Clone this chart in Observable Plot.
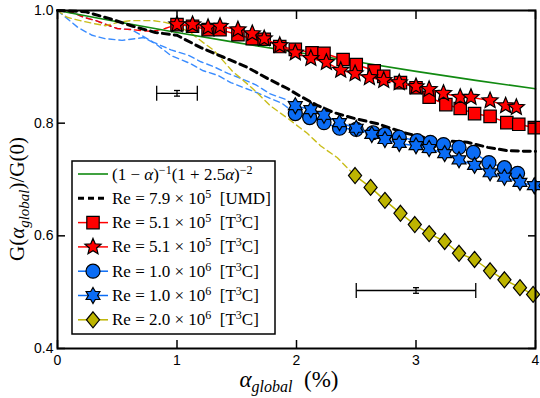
<!DOCTYPE html>
<html>
<head>
<meta charset="utf-8">
<script src="https://cdn.jsdelivr.net/npm/d3@7"></script>
<script src="https://cdn.jsdelivr.net/npm/@observablehq/plot@0.6"></script>
<style>
  html, body { margin: 0; padding: 0; background: #fff; }
  svg { display: block; }
</style>
</head>
<body>
<div id="chart"></div>
<script>
// ---- data ----
const greenX = [0, 0.5, 1, 1.5, 2, 2.5, 3, 3.5, 4];
const greenY = [1.0, 0.980, 0.961, 0.943, 0.926, 0.909, 0.892, 0.876, 0.861];

const umdX = [0, 0.23, 0.43, 0.63, 0.82, 1.0, 1.2, 1.39, 1.59, 1.76, 1.92, 2.03, 2.18, 2.31, 2.49, 2.68, 2.9, 3.06, 3.21, 3.43, 3.6, 3.77, 3.96, 4.0];
const umdY = [1.0, 0.998, 0.986, 0.972, 0.961, 0.956, 0.934, 0.917, 0.899, 0.879, 0.862, 0.848, 0.831, 0.819, 0.808, 0.799, 0.783, 0.775, 0.769, 0.766, 0.757, 0.751, 0.750, 0.750];

const sqX = [1.00, 1.13, 1.26, 1.36, 1.51, 1.63, 1.73, 1.86, 1.99, 2.13, 2.23, 2.39, 2.50, 2.65, 2.73, 2.87, 3.00, 3.11, 3.25, 3.37, 3.49, 3.62, 3.76, 3.86, 3.99];
const sqY = [0.975, 0.972, 0.966, 0.966, 0.957, 0.950, 0.949, 0.936, 0.931, 0.925, 0.924, 0.913, 0.904, 0.893, 0.883, 0.872, 0.863, 0.846, 0.833, 0.826, 0.817, 0.812, 0.801, 0.798, 0.792];

const stX = [1.00, 1.13, 1.26, 1.36, 1.51, 1.63, 1.73, 1.86, 1.99, 2.12, 2.25, 2.37, 2.49, 2.61, 2.73, 2.86, 3.00, 3.11, 3.23, 3.37, 3.46, 3.62, 3.75, 3.84];
const stY = [0.975, 0.975, 0.970, 0.972, 0.966, 0.959, 0.950, 0.938, 0.925, 0.915, 0.908, 0.894, 0.888, 0.881, 0.876, 0.872, 0.865, 0.860, 0.853, 0.846, 0.846, 0.840, 0.831, 0.828];

const redDashX = [0, 0.13, 0.22, 0.32, 0.5, 0.62, 0.72, 0.8, 0.9, 1.0];
const redDashY = [1.0, 0.996, 0.988, 0.982, 0.968, 0.966, 0.964, 0.963, 0.968, 0.975];

const ciX = [1.99, 2.11, 2.23, 2.36, 2.50, 2.64, 2.74, 2.86, 3.01, 3.12, 3.23, 3.36, 3.48, 3.61, 3.74, 3.85];
const ciY = [0.817, 0.810, 0.801, 0.791, 0.789, 0.783, 0.780, 0.775, 0.769, 0.766, 0.762, 0.757, 0.748, 0.730, 0.721, 0.711];

const hxX = [1.99, 2.12, 2.23, 2.36, 2.50, 2.63, 2.74, 2.86, 3.00, 3.11, 3.24, 3.36, 3.49, 3.62, 3.74, 3.87, 3.99];
const hxY = [0.831, 0.824, 0.814, 0.801, 0.791, 0.780, 0.771, 0.764, 0.760, 0.755, 0.746, 0.735, 0.725, 0.712, 0.704, 0.695, 0.689];

const blueDashAX = [0, 0.17, 0.29, 0.40, 0.54, 0.65, 0.72, 0.82, 0.95, 1.11, 1.22, 1.34, 1.45, 1.56, 1.67, 1.78, 1.88, 1.99];
const blueDashAY = [1.0, 0.970, 0.956, 0.950, 0.947, 0.950, 0.952, 0.941, 0.920, 0.906, 0.893, 0.885, 0.872, 0.863, 0.854, 0.844, 0.835, 0.817];

const blueDashBX = [0, 0.13, 0.22, 0.32, 0.5, 0.62, 0.8, 0.95, 1.09, 1.2, 1.31, 1.43, 1.54, 1.66, 1.78, 1.91, 1.99];
const blueDashBY = [1.0, 0.996, 0.988, 0.982, 0.968, 0.966, 0.944, 0.930, 0.921, 0.909, 0.900, 0.888, 0.879, 0.868, 0.852, 0.842, 0.831];

const yelDashX = [0, 0.08, 0.19, 0.30, 0.40, 0.51, 0.61, 0.71, 0.80, 0.90, 1.00, 1.11, 1.22, 1.31, 1.46, 1.63, 1.78, 1.93, 2.09, 2.20, 2.34, 2.49];
const yelDashY = [1.0, 0.988, 0.982, 0.977, 0.973, 0.979, 0.982, 0.982, 0.982, 0.979, 0.973, 0.961, 0.943, 0.929, 0.893, 0.862, 0.831, 0.808, 0.782, 0.760, 0.739, 0.707];

const dmX = [2.49, 2.62, 2.74, 2.87, 2.99, 3.11, 3.24, 3.36, 3.49, 3.62, 3.74, 3.87, 3.98];
const dmY = [0.707, 0.686, 0.663, 0.640, 0.620, 0.604, 0.590, 0.569, 0.558, 0.538, 0.522, 0.508, 0.496];

const errX = [1.0, 3.0];
const errY = [0.853, 0.503];
const errXHalf = [0.17, 0.5];
const errYHalf = [0.005, 0.005];

const xTicks = [0, 1, 2, 3, 4];
const yTicks = [0.4, 0.6, 0.8, 1.0];
const yTickLabels = ["0.4", "0.6", "0.8", "1.0"];

// ---- colours ----
const RED = "#ff0000", BLUE = "#0a6cf5", BLUE_D = "#3a8cff", YEL = "#bdb400", YEL_D = "#c9bd1a", GREEN = "#118a11";

// ---- symbols ----
const sym = f => ({draw(ctx, size) { f(ctx, Math.sqrt(size / Math.PI)); }});
const starPath = (n, inner) => sym((c, r) => {
  for (let i = 0; i < 2 * n; i++) {
    const a = -Math.PI / 2 + i * Math.PI / n;
    const rr = i % 2 ? r * inner : r;
    if (i === 0) c.moveTo(rr * Math.cos(a), rr * Math.sin(a));
    else c.lineTo(rr * Math.cos(a), rr * Math.sin(a));
  }
  c.closePath();
});
const SQUARE = sym((c, r) => { c.moveTo(-r, -r); c.lineTo(r, -r); c.lineTo(r, r); c.lineTo(-r, r); c.closePath(); });
const STAR5 = starPath(5, 0.45);
const HEXA = starPath(6, 0.58);
const DIAM = sym((c, r) => { c.moveTo(0, -r); c.lineTo(0.82 * r, 0); c.lineTo(0, r); c.lineTo(-0.82 * r, 0); c.closePath(); });
const VCAP = sym((c, r) => { c.moveTo(0, -r); c.lineTo(0, r); });
const HCAP = sym((c, r) => { c.moveTo(-r, 0); c.lineTo(r, 0); });

const rows = (xs, ys) => xs.map((x, i) => ({x, y: ys[i]}));
const greenD = rows(greenX, greenY), umdD = rows(umdX, umdY), sqD = rows(sqX, sqY), stD = rows(stX, stY);
const rdD = rows(redDashX, redDashY), ciD = rows(ciX, ciY), hxD = rows(hxX, hxY);
const bdaD = rows(blueDashAX, blueDashAY), bdbD = rows(blueDashBX, blueDashBY), ydD = rows(yelDashX, yelDashY), dmD = rows(dmX, dmY);
const errD = errX.map((x, i) => ({x, y: errY[i], dx: errXHalf[i], dy: errYHalf[i]}));

const dashed = (d, stroke, w = 1.4, da = "6,4") => Plot.line(d, {x: "x", y: "y", stroke, strokeWidth: w, strokeDasharray: da, curve: "linear"});
const solid = (d, stroke, w = 1.5) => Plot.line(d, {x: "x", y: "y", stroke, strokeWidth: w});
const dots = (d, symbol, fill, r) => Plot.dot(d, {x: "x", y: "y", symbol, fill, r, stroke: "black", strokeWidth: 1.2});

const MS = {sq: 6.2, st: 8.5, ci: 7, hx: 8, dm: 8};

const chart = Plot.plot({
  width: 540, height: 398,
  marginLeft: 57, marginRight: 5, marginTop: 10, marginBottom: 50,
  style: {fontFamily: "'Liberation Sans', Arial, sans-serif", fontSize: "14px", color: "black", background: "white"},
  x: {domain: [0, 4]},
  y: {domain: [0.4, 1.0]},
  marks: [
    // extension dashed lines
    dashed(bdaD, BLUE_D),
    dashed(bdbD, BLUE_D),
    dashed(rdD, RED),
    dashed(ydD, YEL_D),
    // model
    solid(greenD, GREEN, 1.6),
    dashed(umdD, "black", 3, "7,5"),
    // data series
    solid(sqD, RED), dots(sqD, SQUARE, RED, MS.sq),
    solid(stD, RED), dots(stD, STAR5, RED, MS.st),
    solid(ciD, BLUE), dots(ciD, "circle", BLUE, MS.ci),
    solid(hxD, BLUE), dots(hxD, HEXA, BLUE, MS.hx),
    solid(dmD, YEL), dots(dmD, DIAM, YEL, MS.dm),
    // error bars
    Plot.link(errD, {x1: d => d.x - d.dx, x2: d => d.x + d.dx, y1: "y", y2: "y", stroke: "black", strokeWidth: 1.3}),
    Plot.dot(errD, {x: d => d.x - d.dx, y: "y", symbol: VCAP, r: 7.5, stroke: "black", strokeWidth: 1.3}),
    Plot.dot(errD, {x: d => d.x + d.dx, y: "y", symbol: VCAP, r: 7.5, stroke: "black", strokeWidth: 1.3}),
    Plot.link(errD, {x1: "x", x2: "x", y1: d => d.y - d.dy, y2: d => d.y + d.dy, stroke: "black", strokeWidth: 1.3}),
    Plot.dot(errD, {x: "x", y: d => d.y - d.dy, symbol: HCAP, r: 3, stroke: "black", strokeWidth: 1.3}),
    Plot.dot(errD, {x: "x", y: d => d.y + d.dy, symbol: HCAP, r: 3, stroke: "black", strokeWidth: 1.3}),
    // axes: labels (no tick length) + inward ticks on all four sides
    Plot.axisX(xTicks, {anchor: "bottom", tickSize: 0, tickPadding: 7, tickFormat: d => String(d), label: null, fontSize: 14}),
    Plot.axisX(xTicks, {anchor: "bottom", tickSize: -8, tickFormat: () => "", label: null, strokeWidth: 1.5}),
    Plot.axisX(xTicks, {anchor: "top", tickSize: -8, tickFormat: () => "", label: null, strokeWidth: 1.5}),
    Plot.axisY(yTicks, {anchor: "left", tickSize: 0, tickPadding: 4, tickFormat: (d, i) => yTickLabels[i], label: null, fontSize: 14}),
    Plot.axisY(yTicks, {anchor: "left", tickSize: -8, tickFormat: () => "", label: null, strokeWidth: 1.5}),
    Plot.axisY(yTicks, {anchor: "right", tickSize: -8, tickFormat: () => "", label: null, strokeWidth: 1.5}),
    Plot.frame({stroke: "black", strokeWidth: 2})
  ]
});

document.getElementById("chart").appendChild(chart);

// ---- axis titles & legend (real text) ----
const svg = d3.select(chart);
const SERIF = "'Liberation Serif', 'DejaVu Serif', serif";

// y title
const yt = svg.append("text")
  .attr("transform", "translate(24,199) rotate(-90)")
  .attr("text-anchor", "middle")
  .attr("font-family", SERIF).attr("font-size", 21).attr("fill", "black");
yt.append("tspan").text("G(");
yt.append("tspan").attr("font-style", "italic").text("α");
yt.append("tspan").attr("font-style", "italic").attr("font-size", 15).attr("dy", 5).text("global");
yt.append("tspan").attr("dy", -5).text(")/G(0)");

// x title
const xt = svg.append("text")
  .attr("x", 289).attr("y", 387)
  .attr("text-anchor", "middle")
  .attr("font-family", SERIF).attr("font-size", 23).attr("fill", "black")
  .style("white-space", "pre");
xt.append("tspan").attr("font-style", "italic").text("α");
xt.append("tspan").attr("font-style", "italic").attr("font-size", 16).attr("dy", 5).text("global");
xt.append("tspan").attr("dy", -5).text("  (%)");

// legend
const lg = svg.append("g");
lg.append("rect").attr("x", 72).attr("y", 161).attr("width", 203).attr("height", 173)
  .attr("fill", "white").attr("stroke", "black").attr("stroke-width", 1.5);

const legendItems = [
  {stroke: GREEN, dash: null, w: 1.6, symbol: null, parts: [["(1 − "], ["α", "i"], [")"], ["−1", "sup"], ["(1 + 2.5"], ["α", "i"], [")"], ["−2", "sup"]]},
  {stroke: "black", dash: "6,4", w: 3, symbol: null, parts: [["Re = 7.9 × 10"], ["5", "sup"], ["  [UMD]"]]},
  {stroke: RED, symbol: SQUARE, fill: RED, r: MS.sq, parts: [["Re = 5.1 × 10"], ["5", "sup"], ["  [T"], ["3", "sup"], ["C]"]]},
  {stroke: RED, symbol: STAR5, fill: RED, r: MS.st, parts: [["Re = 5.1 × 10"], ["5", "sup"], ["  [T"], ["3", "sup"], ["C]"]]},
  {stroke: BLUE, symbol: d3.symbolCircle, fill: BLUE, r: MS.ci, parts: [["Re = 1.0 × 10"], ["6", "sup"], ["  [T"], ["3", "sup"], ["C]"]]},
  {stroke: BLUE, symbol: HEXA, fill: BLUE, r: MS.hx, parts: [["Re = 1.0 × 10"], ["6", "sup"], ["  [T"], ["3", "sup"], ["C]"]]},
  {stroke: YEL, symbol: DIAM, fill: YEL, r: MS.dm, parts: [["Re = 2.0 × 10"], ["6", "sup"], ["  [T"], ["3", "sup"], ["C]"]]}
];

legendItems.forEach((it, i) => {
  const y = 174 + i * 24.3;
  lg.append("line").attr("x1", 78).attr("x2", 108).attr("y1", y).attr("y2", y)
    .attr("stroke", it.stroke).attr("stroke-width", it.w || 1.5)
    .attr("stroke-dasharray", it.dash || null);
  if (it.symbol) {
    lg.append("path").attr("transform", `translate(93,${y})`)
      .attr("d", d3.symbol().type(it.symbol).size(Math.PI * it.r * it.r)())
      .attr("fill", it.fill).attr("stroke", "black").attr("stroke-width", 1.2);
  }
  const t = lg.append("text").attr("x", 112).attr("y", y + 5.5)
    .attr("text-anchor", "start")
    .attr("font-family", SERIF).attr("font-size", 17).attr("fill", "black")
    .style("white-space", "pre");
  let shifted = false;
  it.parts.forEach(([s, kind]) => {
    const ts = t.append("tspan").text(s);
    if (kind === "sup") {
      ts.attr("font-size", 12).attr("dy", -6); shifted = true;
    } else {
      if (shifted) { ts.attr("dy", 6); shifted = false; }
      if (kind === "i") ts.attr("font-style", "italic");
    }
  });
});
</script>
</body>
</html>
